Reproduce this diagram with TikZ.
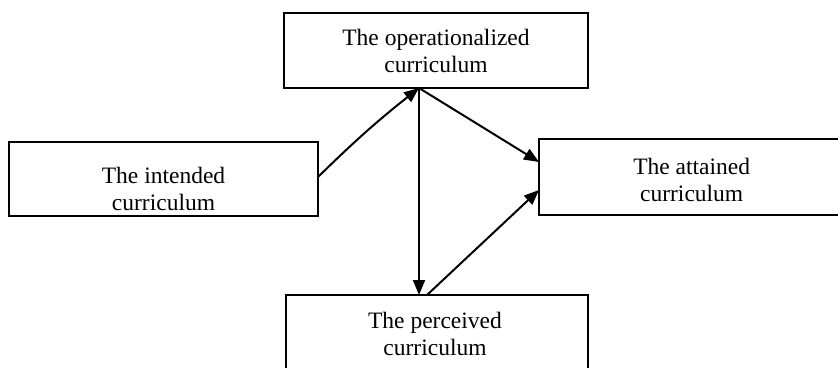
\documentclass[tikz,border=0pt]{standalone}
\usepackage{fontspec}
\setmainfont{Liberation Serif}
\usetikzlibrary{arrows.meta}
\begin{document}
\begin{tikzpicture}[x=1pt,y=-1pt,
  box/.style={draw=black,line width=2pt,rectangle,inner sep=0pt},
  txt/.style={inner sep=0pt,align=center,font=\fontsize{23.5}{27}\selectfont},
  arr/.style={line width=2pt,-{Triangle[length=15pt,width=12pt]}}]
\clip (0,0) rectangle (838,367);
\fill[white] (0,0) rectangle (838,367);
% boxes
\node[box,minimum width=304pt,minimum height=75pt] (op) at (436,50.5) {};
\node[box,minimum width=309pt,minimum height=74pt] (int) at (163.5,179) {};
\node[box,minimum width=307pt,minimum height=76pt] (att) at (692.5,177) {};
\node[box,minimum width=302pt,minimum height=90pt] (per) at (437,340) {};
% texts
\node[txt] (opT) at (436,50.5) {The operationalized\\curriculum};
\node[txt] (intT) at (163.5,189) {The intended\\curriculum};
\node[txt] (attT) at (691.7,180) {The attained\\curriculum};
\node[txt] (perT) at (435,333.5) {The perceived\\curriculum};
% connector points
\coordinate (opS) at (419,88);
\coordinate (intE) at (318,177);
\coordinate (perN1) at (419,295);
\coordinate (perN2) at (427,295);
\coordinate (attW1) at (539,162);
\coordinate (attW2) at (539,190);
% connectors
\draw[arr] (intE) to[bend left=3] (opS);
\draw[arr] (opS) -- (attW1);
\draw[arr] (opS) -- (perN1);
\draw[arr] (perN2) -- (attW2);
\end{tikzpicture}
\end{document}
